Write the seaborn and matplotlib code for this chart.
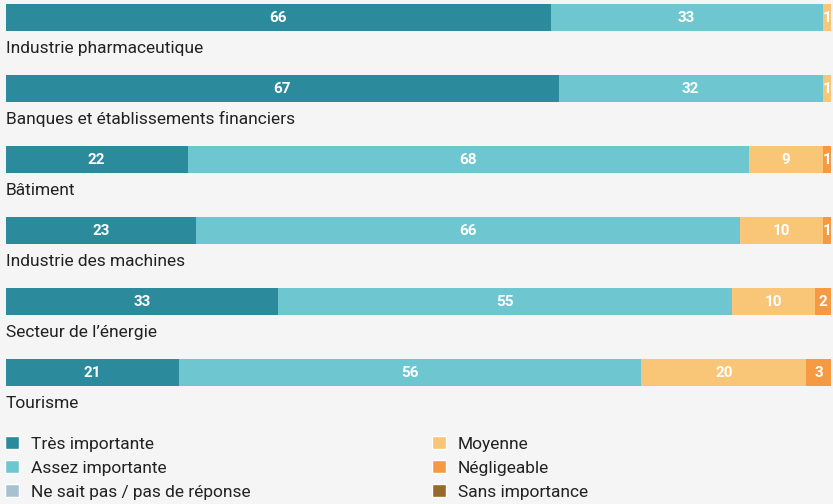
#!/usr/bin/env python
"""Stacked horizontal bars: importance rating by sector (percent)."""
import matplotlib
matplotlib.use('Agg')
import matplotlib.pyplot as plt
from matplotlib.patches import Patch
import seaborn as sb
import pandas as pd

sectors = ['Industrie pharmaceutique', 'Banques et établissements financiers',
           'Bâtiment', 'Industrie des machines', 'Secteur de l\u2019énergie', 'Tourisme']
tres_importante = [66, 67, 22, 23, 33, 21]
assez_importante = [33, 32, 68, 66, 55, 56]
moyenne = [1, 1, 9, 10, 10, 20]
negligeable = [0, 0, 1, 1, 2, 3]
ne_sait_pas = [0, 0, 0, 0, 0, 0]
sans_importance = [0, 0, 0, 0, 0, 0]

series = [('Très importante', tres_importante, '#2b8a9b'),
          ('Assez importante', assez_importante, '#6ec6d0'),
          ('Moyenne', moyenne, '#f9c577'),
          ('Négligeable', negligeable, '#f59a42'),
          ('Ne sait pas / pas de réponse', ne_sait_pas, '#a8c1d1'),
          ('Sans importance', sans_importance, '#97692a')]

bg = '#f5f5f5'
sb.set_style('white')
plt.rcParams['font.family'] = ['Roboto', 'DejaVu Sans']

df = pd.DataFrame({'sector': sectors})
left = [0] * len(sectors)
for name, vals, _ in series:
    df[name + '_left'] = left
    left = [l + v for l, v in zip(left, vals)]
    df[name + '_right'] = left

fig = plt.figure(figsize=(8.33, 5.04), dpi=100, facecolor=bg)
ax = fig.add_axes([6 / 833, 0.234, 825 / 833, 0.758])
ax.set_facecolor(bg)

# draw cumulative bars from the longest to the shortest so they stack visually
for name, vals, color in reversed(series):
    sb.barplot(x=df[name + '_right'], y=df['sector'], color=color, orient='h',
               width=0.38, ax=ax, saturation=1, linewidth=0)

# value labels
for name, vals, _ in series:
    for i, v in enumerate(vals):
        if v <= 0:
            continue
        xc = df[name + '_left'][i] + v / 2
        ax.text(xc, i, str(v), ha='center', va='center', color='white',
                fontsize=11, fontweight='bold')

# category labels below each bar
for i, s in enumerate(sectors):
    ax.text(0, i + 0.43, s, ha='left', va='center', fontsize=12.5,
            color='#222222', clip_on=False)

ax.set_xlim(0, 100)
ax.set_ylim(5.19, -0.19)
ax.set_xlabel('')
ax.set_ylabel('')
ax.set_xticks([])
ax.set_yticks([])
sb.despine(ax=ax, left=True, bottom=True)

handles = [Patch(facecolor=c, label=n) for n, _, c in series]
col1 = [handles[0], handles[1], handles[4]]
col2 = [handles[2], handles[3], handles[5]]
leg_kw = dict(loc='upper left', frameon=False, fontsize=12.5, handlelength=0.8,
              handleheight=0.8, handletextpad=0.68, labelspacing=0.48,
              borderaxespad=0, borderpad=0, labelcolor='#222222')
leg1 = fig.legend(handles=col1, bbox_to_anchor=(5 / 833, 1 - 436 / 504), **leg_kw)
leg2 = fig.legend(handles=col2, bbox_to_anchor=(432 / 833, 1 - 436 / 504), **leg_kw)

fig.savefig('out.png', dpi=100, facecolor=bg)
